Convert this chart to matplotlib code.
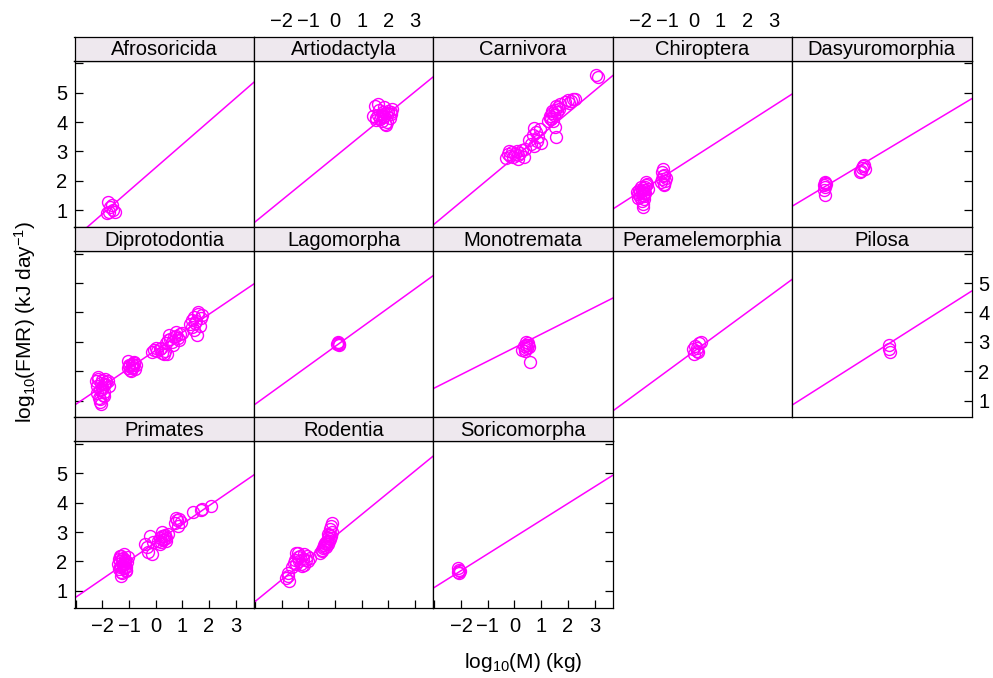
import numpy as np
import matplotlib
matplotlib.use("Agg")
import matplotlib.pyplot as plt

plt.rcParams['font.family'] = ['Liberation Sans', 'DejaVu Sans']
plt.rcParams['mathtext.fontset'] = 'custom'
plt.rcParams['mathtext.rm'] = 'Liberation Sans'
plt.rcParams['mathtext.it'] = 'Liberation Sans:italic'

ordenes = ["Afrosoricida", "Artiodactyla", "Carnivora", "Chiroptera", "Dasyuromorphia",
           "Diprotodontia", "Lagomorpha", "Monotremata", "Peramelemorphia", "Pilosa",
           "Primates", "Rodentia", "Soricomorpha"]

# log10 masa (kg) y log10 FMR (kJ/dia) por orden
afro_m = [-1.77, -1.71, -1.74, -1.59, -1.81, -1.65, -1.52]
afro_f = [1.29, 1.12, 0.95, 1.01, 0.90, 1.18, 0.95]

artio_m = [1.42, 1.55, 1.62, 1.70, 1.78, 1.85, 1.92, 2.00, 2.08, 2.15, 1.48, 1.60,
           1.75, 1.88, 1.95, 2.05, 1.65, 1.82, 1.98, 1.52, 1.72, 1.90, 2.10, 1.80]
artio_f = [4.20, 4.15, 4.25, 4.10, 4.35, 4.20, 4.30, 4.38, 4.28, 4.45, 4.55, 4.60,
           4.05, 3.95, 4.00, 4.15, 4.40, 4.50, 4.32, 4.08, 4.22, 3.90, 4.35, 4.18]

carn_m = [-0.32, -0.25, -0.18, -0.10, -0.05, 0.02, 0.08, 0.15, 0.22, 0.28, 0.35, 0.40, 0.12, -0.20,
          0.55, 0.62, 0.70, 0.75, 0.80, 0.85, 0.90, 0.95, 1.00, 0.72,
          1.55, 1.50,
          1.25, 1.32, 1.38, 1.42, 1.48, 1.52, 1.58, 1.62, 1.68, 1.72, 1.35, 1.45, 1.55, 1.40,
          1.90, 2.00, 2.10, 2.20, 2.28, 2.05,
          3.05, 3.12]
carn_f = [2.78, 2.92, 2.85, 2.97, 2.80, 2.90, 3.02, 2.88, 2.95, 3.05, 2.82, 3.10, 2.75, 3.00,
          3.40, 3.25, 3.55, 3.20, 3.65, 3.35, 3.50, 3.75, 3.30, 3.80,
          3.50, 3.85,
          4.05, 4.20, 4.10, 4.30, 4.25, 4.40, 4.35, 4.50, 4.45, 4.60, 4.15, 4.05, 4.55, 4.38,
          4.70, 4.75, 4.72, 4.80, 4.78, 4.65,
          5.60, 5.55]

chiro_m = [-2.10, -2.05, -2.00, -1.95, -1.90, -1.85, -1.80, -1.75, -2.08, -2.02, -1.97, -1.92,
           -1.88, -1.82, -1.78, -1.72, -2.12, -1.94, -1.86, -1.90, -1.92, -1.88, -1.84,
           -1.22, -1.18, -1.15, -1.12, -1.10, -1.08, -1.05, -1.20, -1.14, -1.10]
chiro_f = [1.55, 1.70, 1.45, 1.65, 1.75, 1.60, 1.85, 1.90, 1.40, 1.62, 1.80, 1.52,
           1.68, 1.78, 1.95, 1.72, 1.62, 1.30, 1.50, 1.20, 1.10, 1.38, 1.58,
           1.95, 2.05, 2.15, 1.90, 2.20, 2.00, 2.10, 2.30, 2.40, 1.85]

dasy_m = [-1.85, -1.82, -1.80, -1.78, -1.83, -1.79, -1.81, -0.50, -0.42, -0.35, -0.30, -0.45, -0.38]
dasy_f = [1.85, 1.78, 1.92, 1.88, 1.70, 1.95, 1.52, 2.30, 2.45, 2.55, 2.40, 2.35, 2.50]

dipro_m = [-2.25, -2.20, -2.15, -2.10, -2.05, -2.00, -1.95, -1.90, -1.85, -1.80, -1.75, -2.18,
           -2.12, -2.08, -2.02, -1.98, -1.92, -1.88, -2.15, -2.05, -2.10, -2.00, -1.95,
           -1.05, -1.00, -0.95, -0.90, -0.85, -0.80, -0.75, -1.02, -0.92, -0.88, -0.82, -0.98, -0.78, -0.86,
           -0.15, -0.05, 0.05, 0.15, 0.25, 0.35, 0.00, 0.20, 0.30, 0.41,
           0.40, 0.48, 0.55, 0.62, 0.70, 0.78, 0.85, 0.92, 0.98, 0.50, 0.65, 0.75, 0.88,
           1.30, 1.38, 1.45, 1.52, 1.60, 1.68, 1.72, 1.35, 1.48, 1.58, 1.65, 1.54, 1.42]
dipro_f = [1.65, 1.50, 1.72, 1.35, 1.60, 1.70, 1.55, 1.75, 1.62, 1.68, 1.48, 1.25,
           1.10, 0.95, 1.40, 1.20, 1.30, 1.58, 1.80, 0.88, 1.05, 1.45, 1.15,
           2.10, 2.20, 2.05, 2.25, 2.15, 2.30, 2.20, 2.35, 2.00, 2.12, 2.28, 2.18, 2.08, 2.22,
           2.65, 2.72, 2.68, 2.75, 2.62, 2.70, 2.78, 2.80, 2.58, 2.60,
           2.95, 3.05, 3.10, 3.00, 3.15, 3.20, 3.12, 3.25, 3.30, 3.22, 2.90, 3.35, 3.05,
           3.60, 3.75, 3.85, 3.70, 3.95, 3.80, 3.90, 3.50, 3.65, 4.00, 3.55, 3.22, 3.40]

lago_m = [0.08, 0.12, 0.15, 0.10, 0.14]
lago_f = [2.92, 2.96, 2.90, 3.00, 2.94]

mono_m = [0.35, 0.42, 0.48, 0.52, 0.38, 0.45, 0.55, 0.40, 0.50, 0.30, 0.58]
mono_f = [2.85, 2.90, 2.80, 2.95, 2.75, 3.00, 2.82, 2.70, 2.88, 2.72, 2.32]

pera_m = [-0.05, 0.05, 0.12, 0.20, 0.00, 0.10, 0.25, 0.15]
pera_f = [2.75, 2.85, 2.70, 2.95, 2.60, 2.80, 3.00, 2.65]

pilo_m = [0.60, 0.58, 0.62]
pilo_f = [2.88, 2.75, 2.65]

prim_m = [-1.40, -1.35, -1.30, -1.25, -1.20, -1.15, -1.10, -1.05, -1.38, -1.32, -1.28, -1.22,
          -1.18, -1.12, -1.08, -1.36, -1.26, -1.16, -1.30, -1.24, -1.20, -1.14, -1.34, -1.10, -1.28,
          -0.40, -0.21, -0.28, -0.15, -0.09, -0.34,
          0.10, 0.15, 0.20, 0.25, 0.30, 0.35, 0.40, 0.45, 0.18, 0.28, 0.38, 0.22, 0.32,
          0.72, 0.80, 0.88, 0.95, 0.85, 0.78,
          1.39, 1.70, 1.75, 2.06]
prim_f = [1.90, 2.00, 1.85, 2.10, 1.95, 2.05, 1.80, 2.15, 1.75, 2.20, 1.65, 1.88,
          2.25, 1.70, 1.98, 2.08, 1.60, 1.92, 1.50, 2.12, 1.78, 2.00, 1.82, 1.68, 2.18,
          2.60, 2.88, 2.31, 2.26, 2.65, 2.48,
          2.70, 2.80, 2.65, 2.85, 2.75, 2.90, 2.80, 2.95, 2.60, 2.72, 2.68, 3.00, 2.88,
          3.30, 3.40, 3.45, 3.35, 3.20, 3.48,
          3.67, 3.74, 3.80, 3.90]

rode_m = [-1.82, -1.76, -1.71, -1.78,
          -1.60, -1.55, -1.50, -1.45, -1.40, -1.35, -1.30, -1.25, -1.20, -1.15, -1.10, -1.05,
          -1.00, -0.95, -1.48, -1.28, -1.18, -1.38,
          -0.55, -0.50, -0.45, -0.40, -0.35, -0.30, -0.25, -0.20, -0.15, -0.12, -0.48, -0.38,
          -0.28, -0.22, -0.18, -0.42, -0.32, -0.26, -0.16, -0.10, -0.35, -0.24]
rode_f = [1.43, 1.52, 1.35, 1.60,
          1.80, 1.95, 2.05, 1.90, 2.15, 2.00, 2.20, 1.85, 2.10, 2.25, 2.05, 2.18,
          2.00, 2.12, 2.28, 1.92, 1.88, 2.30,
          2.30, 2.40, 2.45, 2.55, 2.50, 2.65, 2.60, 2.75, 2.85, 3.00, 2.35, 2.62,
          2.80, 2.90, 3.10, 2.48, 2.70, 2.95, 3.20, 3.30, 2.58, 2.68]

sori_m = [-2.12, -2.08, -2.05, -2.10, -2.06]
sori_f = [1.65, 1.72, 1.68, 1.78, 1.62]

masas = [afro_m, artio_m, carn_m, chiro_m, dasy_m, dipro_m, lago_m, mono_m,
         pera_m, pilo_m, prim_m, rode_m, sori_m]
fmrs = [afro_f, artio_f, carn_f, chiro_f, dasy_f, dipro_f, lago_f, mono_f,
        pera_f, pilo_f, prim_f, rode_f, sori_f]

# recta ajustada por orden
interceptos = [2.45, 2.82, 2.80, 2.81, 2.79, 2.71, 2.84, 2.80, 2.67, 2.60, 2.65, 2.86, 2.83]
pendientes = [0.79, 0.74, 0.756, 0.583, 0.544, 0.614, 0.656, 0.458, 0.667, 0.577, 0.624, 0.742, 0.571]

x_ticks = [-3, -2, -1, 0, 1, 2, 3]
x_etiquetas = ['', '\u22122', '\u22121', '0', '1', '2', '3']
y_ticks = [1, 2, 3, 4, 5, 6]
y_etiquetas = ['1', '2', '3', '4', '5', '']

color = '#ff00ff'
W, H = 993, 678
fs = 14.5
fig = plt.figure(figsize=(W / 100, H / 100), dpi=100)

col_izq = 74.5
ancho = 179.4
fila_top = 36.7
alto_strip = 24.0
alto_panel = 166.3
n_col = 5

for i, nombre in enumerate(ordenes):
    fila, col = divmod(i, n_col)
    x0 = col_izq + col * ancho
    y_strip = fila_top + fila * (alto_strip + alto_panel)
    y_panel = y_strip + alto_strip

    ax = fig.add_axes([x0 / W, 1 - (y_panel + alto_panel) / H, ancho / W, alto_panel / H])
    st = fig.add_axes([x0 / W, 1 - (y_panel) / H, ancho / W, alto_strip / H], sharex=ax)

    ax.plot(masas[i], fmrs[i], 'o', mfc='none', mec=color, ms=8.6, mew=1.0)
    ax.axline((0, interceptos[i]), slope=pendientes[i], color=color, lw=1.1)
    ax.set_xlim(-3.04, 3.68)
    ax.set_ylim(0.43, 6.09)
    ax.set_xticks(x_ticks, labels=x_etiquetas)
    ax.set_yticks(y_ticks, labels=y_etiquetas)
    for s in ax.spines.values():
        s.set_linewidth(0.9)

    ultima = (col == n_col - 1) or (i == len(ordenes) - 1)
    ax.tick_params(axis='both', direction='in', length=6, width=0.9, labelsize=fs, colors='black')
    ax.tick_params(axis='y', left=(col == 0), labelleft=(col == 0 and fila != 1),
                   right=ultima, labelright=(ultima and fila == 1), pad=5)
    ax.tick_params(axis='x', bottom=(fila == 2), labelbottom=(fila == 2 and col % 2 == 0),
                   top=False, labeltop=False, pad=7)

    st.set_facecolor('#eee8ee')
    st.set_yticks([])
    st.tick_params(axis='x', bottom=False, labelbottom=False, top=(fila == 0 and col % 2 == 1),
                   labeltop=(fila == 0 and col % 2 == 1), length=0, labelsize=fs, pad=4)
    for s in st.spines.values():
        s.set_linewidth(0.9)
    st.text(0.5, 0.45, nombre, transform=st.transAxes, ha='center', va='center', fontsize=fs)

fig.text(523 / W, 1 - 662 / H, 'log$_{10}$(M) (kg)', ha='center', va='center', fontsize=15)
fig.text(25 / W, 1 - 322 / H, 'log$_{10}$(FMR) (kJ day$^{-1}$)', ha='center', va='center',
         rotation=90, fontsize=15)

fig.savefig('out.png', dpi=100)
